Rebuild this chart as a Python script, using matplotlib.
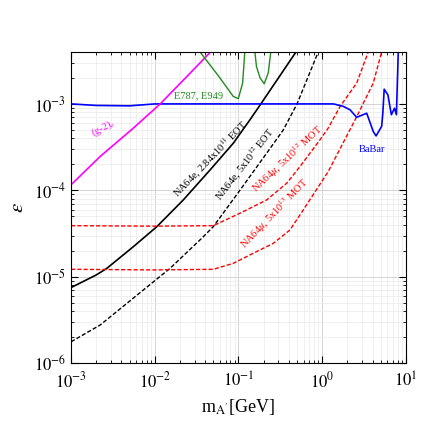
import matplotlib
matplotlib.use('Agg')
import matplotlib.pyplot as plt
import numpy as np

plt.rcParams['font.family'] = ['Liberation Serif', 'DejaVu Serif']
plt.rcParams['mathtext.fontset'] = 'stix'

# NA64e, 2.84x10^11 EOT
m_e1 = [1e-3, 2e-3, 2.67e-3, 5.55e-3, 0.01055, 0.0219, 0.0457, 0.0867, 0.137, 0.185, 0.487]
eps_e1 = [7.5e-6, 1.05e-5, 1.25e-5, 2.23e-5, 3.79e-5, 7.74e-5, 1.72e-4, 3.51e-4, 6.55e-4, 1.0e-3, 4e-3]

# NA64e, 5x10^12 EOT
m_e2 = [1e-3, 2.22e-3, 0.0152, 0.0364, 0.05, 0.1, 0.217, 0.343, 0.5, 0.898]
eps_e2 = [1.77e-6, 2.76e-6, 1.25e-5, 2.79e-5, 3.8e-5, 9.5e-5, 2.69e-4, 5.0e-4, 1.0e-3, 4e-3]

# NA64mu, 5x10^12 MOT
m_mu1 = [1e-3, 0.01, 0.05, 0.104, 0.217, 0.377, 0.542, 0.94, 1.18, 1.63, 2.58, 3.55]
eps_mu1 = [3.9e-5, 3.85e-5, 3.9e-5, 5.43e-5, 7.74e-5, 1.21e-4, 1.88e-4, 3.84e-4, 5.25e-4, 9.3e-4, 1.74e-3, 4e-3]

# NA64mu, 5x10^13 MOT
m_mu2 = [1e-3, 0.01, 0.05, 0.0867, 0.15, 0.261, 0.412, 0.594, 1.18, 2.58, 4.07, 5.13]
eps_mu2 = [1.22e-5, 1.2e-5, 1.22e-5, 1.43e-5, 1.87e-5, 2.44e-5, 3.48e-5, 5.93e-5, 1.65e-4, 7.1e-4, 1.74e-3, 4e-3]

# BaBar
m_babar = [1e-3, 2e-3, 5e-3, 1e-2, 0.1, 1.0, 1.36, 1.77, 2.15, 2.58, 3.4, 4.07, 4.4,
           5.13, 5.3, 5.5, 6.1, 6.7, 7.3, 7.7, 8.1]
eps_babar = [1e-3, 9.6e-4, 9.5e-4, 1e-3, 1e-3, 1e-3, 1e-3, 9.4e-4, 8.55e-4, 7.0e-4, 7.8e-4, 4.8e-4, 4.26e-4,
             5.5e-4, 7.8e-4, 1.48e-3, 1.27e-3, 7.5e-4, 8.9e-4, 7.5e-4, 4e-3]

# (g-2)_e
m_g2 = [1e-3, 2.22e-3, 5.55e-3, 0.0116, 0.0241, 0.0465]
eps_g2 = [1.16e-4, 2.46e-4, 5.25e-4, 1e-3, 2.07e-3, 4e-3]

# E787, E949
m_kaon = [0.0347, 0.06, 0.0867, 0.0995, 0.112, 0.119, 0.138, 0.157, 0.164, 0.181, 0.203, 0.227, 0.243]
eps_kaon = [4e-3, 2.0e-3, 1.22e-3, 1.15e-3, 1.74e-3, 4e-3, 9e-3, 4e-3, 2.7e-3, 2.0e-3, 1.71e-3, 2.3e-3, 4e-3]

fig = plt.figure(figsize=(4.36, 4.36), dpi=100)
ax = fig.add_axes([0.163, 0.167, 0.768, 0.714])

ax.plot(m_e1, eps_e1, color='black', lw=1.2)
ax.plot(m_e2, eps_e2, color='black', lw=1.0, ls=(0, (3, 1.5)))
ax.plot(m_mu1, eps_mu1, color='red', lw=1.0, ls=(0, (3, 1.5)))
ax.plot(m_mu2, eps_mu2, color='red', lw=1.0, ls=(0, (3, 1.5)))
ax.plot(m_babar, eps_babar, color='blue', lw=1.2)
ax.plot(m_g2, eps_g2, color='magenta', lw=1.2)
ax.plot(m_kaon, eps_kaon, color='forestgreen', lw=1.0)

ax.set_xscale('log')
ax.set_yscale('log')
ax.set_xlim(1e-3, 10)
ax.set_ylim(1e-6, 4e-3)

ax.grid(True, which='major', color='#d4d4d4', lw=0.7)
ax.grid(True, which='minor', color='#ececec', lw=0.6)
ax.set_axisbelow(True)
ax.tick_params(which='both', direction='in', top=True, right=True, labelsize=12)
ax.tick_params(which='major', length=5)
ax.tick_params(which='minor', length=2.5)
ax.set_xticks([1e-3, 1e-2, 1e-1, 1, 10])
ax.set_xticklabels([r'$10^{-3}$', r'$10^{-2}$', r'$10^{-1}$', r'$10^{0}$', r'$10^{1}$'])
ax.set_yticks([1e-6, 1e-5, 1e-4, 1e-3])
ax.set_yticklabels([r'$10^{-6}$', r'$10^{-5}$', r'$10^{-4}$', r'$10^{-3}$'])
ax.tick_params(axis='x', pad=6)

ax.set_xlabel(r"m$_{\mathrm{A}^{\prime}}$[GeV]", fontsize=13)
ax.set_ylabel(r'$\varepsilon$', fontsize=15)

fs = 7.5
kw = dict(fontsize=fs, ha='left', va='baseline', rotation_mode='anchor')
ax.text(1.83e-3, 4.26e-4, r'(g-2)$_e$', color='magenta', rotation=28, **kw)
ax.text(0.017, 1.15e-3, 'E787, E949', color='forestgreen', **kw)
ax.text(2.75, 2.79e-4, 'BaBar', color='blue', **kw)
ax.text(0.019, 8.17e-5, r'NA64e, 2.84x10$^{11}$ EOT', color='black', rotation=46, **kw)
ax.text(0.0618, 7.34e-5, r'NA64e, 5x10$^{12}$ EOT', color='black', rotation=52, **kw)
ax.text(0.162, 9.33e-5, r'NA64$\mu$, 5x10$^{12}$ MOT', color='red', rotation=43, **kw)
ax.text(0.12, 2.07e-5, r'NA64$\mu$, 5x10$^{13}$ MOT', color='red', rotation=46, **kw)

fig.savefig('out.png', dpi=100)
